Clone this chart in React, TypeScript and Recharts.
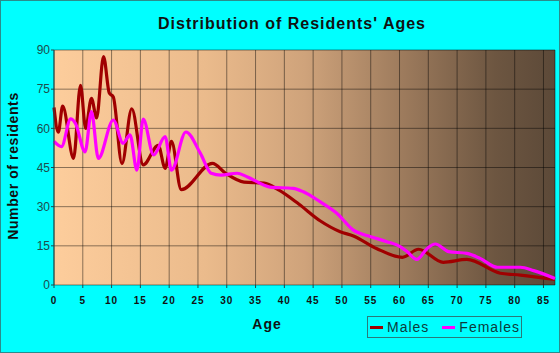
import { LineChart, Line, XAxis, YAxis, CartesianGrid } from 'recharts'

// ages and counts (points at the bends of each curve)
const maleAges = [0, 0.75, 1.5, 3.4, 4.6, 5.5, 6.5, 7.4, 8.6, 9.6, 10.3, 11.8, 13.5, 15.5, 18.1, 19.3, 20.4, 22.1, 27.5, 29.8, 33, 36.5, 39, 42.5, 46.2, 49.7, 52, 56, 60.5, 63.3, 67.6, 71.7, 77.5, 81, 87]
const maleCounts = [68, 58.5, 68.5, 48.5, 76.5, 60, 71.5, 64, 87.5, 73.5, 72, 46.5, 67.5, 46, 53.5, 44.7, 55, 36.5, 46.6, 42.8, 39.4, 39, 36.4, 31, 24.6, 20.4, 18.8, 14, 10.6, 13.7, 8.7, 9.8, 4.5, 3.8, 2.1]

const femaleAges = [0, 1.3, 2.9, 3.7, 5.4, 6.5, 7.7, 10.3, 12, 13.2, 14.4, 15.5, 17.3, 19.3, 20.4, 22.9, 25.4, 27.3, 29, 31.8, 33.5, 37.5, 41.5, 43.3, 46.2, 49.1, 52, 55, 57.8, 60.1, 61.3, 63, 64.8, 66.2, 68.5, 71.7, 74, 77, 81, 83.3, 87]
const femaleCounts = [55, 53, 63.6, 62, 51, 66.4, 48.5, 63.2, 54.3, 57.5, 44, 63.5, 49.8, 56.8, 44, 58.6, 50.5, 42.8, 42.1, 42.8, 41.5, 37.5, 37, 35.7, 31.9, 27.5, 21, 18.5, 16.6, 14.7, 12.8, 9.8, 14, 15.7, 12.8, 12.1, 10.2, 6.8, 6.8, 5.5, 2.5]

const ageTicks = [0, 5, 10, 15, 20, 25, 30, 35, 40, 45, 50, 55, 60, 65, 70, 75, 80, 85]
const yearTicks = Array.from({ length: 88 }, (_, i) => i)
const countTicks = [0, 15, 30, 45, 60, 75, 90]

const maleData = maleAges.map((age, i) => ({ age, count: maleCounts[i] }))
const femaleData = femaleAges.map((age, i) => ({ age, count: femaleCounts[i] }))

const series = [
  { name: 'Males', color: '#a00000', data: maleData },
  { name: 'Females', color: '#ff00ff', data: femaleData }
]

const FONT = '"Liberation Sans", Arial, sans-serif'
const TEXT = '#0a2a2a'

export default function App() {
  return (
    <div
      style={{
        position: 'absolute',
        left: 0,
        top: 0,
        width: 560,
        height: 353,
        background: '#00ffff',
        boxShadow: 'inset 0 0 0 1px #2a8c8c',
        fontFamily: FONT,
        color: TEXT
      }}
    >
      <LineChart
        width={560}
        height={353}
        margin={{ top: 50, right: 5, bottom: 38, left: 0 }}
        style={{ position: 'absolute', left: 0, top: 0 }}
      >
        <defs>
          <linearGradient id="plotBg" x1="0" y1="0" x2="1" y2="0">
            <stop offset="0%" stopColor="#fdcd9c" />
            <stop offset="30%" stopColor="#ebbb8c" />
            <stop offset="50%" stopColor="#cfa37b" />
            <stop offset="70%" stopColor="#9c7a5c" />
            <stop offset="88%" stopColor="#6d5641" />
            <stop offset="100%" stopColor="#5c4938" />
          </linearGradient>
        </defs>
        <CartesianGrid
          xAxisId="major"
          fill="url(#plotBg)"
          stroke="#000"
          strokeOpacity={0.45}
        />
        <XAxis
          xAxisId="minor"
          dataKey="age"
          type="number"
          domain={[0, 87]}
          ticks={yearTicks}
          interval={0}
          height={0}
          tickSize={3}
          tickFormatter={() => ''}
          stroke="#1e4a4a"
        />
        <XAxis
          xAxisId="major"
          dataKey="age"
          type="number"
          domain={[0, 87]}
          ticks={ageTicks}
          interval={0}
          height={30}
          tickSize={3}
          tickMargin={9}
          axisLine={false}
          tick={{ fill: '#111', fontSize: 10, fontWeight: 'bold', fontFamily: FONT, letterSpacing: 1 }}
          stroke="#1e4a4a"
        />
        <YAxis
          type="number"
          domain={[0, 90]}
          ticks={countTicks}
          interval={0}
          width={54}
          tickSize={3}
          tickMargin={1}
          tick={{ fill: '#1d4d4d', fontSize: 12, fontFamily: FONT }}
          stroke="#1e4a4a"
        />
        {series.map(s => (
          <Line
            key={s.name}
            xAxisId="major"
            data={s.data}
            dataKey="count"
            name={s.name}
            type="monotone"
            stroke={s.color}
            strokeWidth={3.2}
            dot={false}
            activeDot={false}
            isAnimationActive={false}
          />
        ))}
      </LineChart>

      <div
        style={{
          position: 'absolute',
          left: 292,
          top: 16,
          transform: 'translateX(-50%)',
          whiteSpace: 'nowrap',
          fontSize: 16,
          lineHeight: '16px',
          fontWeight: 'bold',
          letterSpacing: 1,
          color: '#111'
        }}
      >
        Distribution of Residents' Ages
      </div>

      <div
        style={{
          position: 'absolute',
          left: 267,
          top: 317,
          transform: 'translateX(-50%)',
          fontSize: 14,
          lineHeight: '14px',
          fontWeight: 'bold',
          letterSpacing: 1,
          color: '#111'
        }}
      >
        Age
      </div>

      <div
        style={{
          position: 'absolute',
          left: 13,
          top: 166,
          transform: 'translate(-50%, -50%) rotate(-90deg)',
          whiteSpace: 'nowrap',
          fontSize: 14,
          lineHeight: '14px',
          fontWeight: 'bold',
          letterSpacing: 0.6,
          color: '#111'
        }}
      >
        Number of residents
      </div>

      <div
        style={{
          position: 'absolute',
          left: 367,
          top: 316,
          width: 155,
          height: 22,
          boxSizing: 'border-box',
          border: '1px solid #2a7a7a',
          display: 'flex',
          alignItems: 'center',
          fontSize: 14,
          letterSpacing: 1,
          color: '#0d3b3b'
        }}
      >
        {series.map(s => (
          <div key={s.name} style={{ display: 'flex', alignItems: 'center', marginLeft: s.name === 'Males' ? 2 : 13 }}>
            <div style={{ width: 13, height: 3, background: s.color, marginRight: 4 }} />
            <span>{s.name}</span>
          </div>
        ))}
      </div>
    </div>
  )
}
